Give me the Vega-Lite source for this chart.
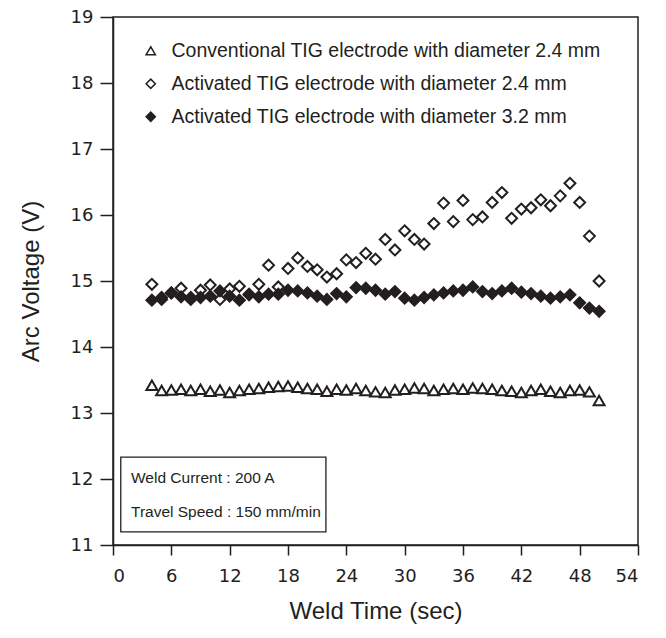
{
  "$schema": "https://vega.github.io/schema/vega-lite/v6.json",
  "width": 525,
  "height": 528,
  "autosize": {"type": "none"},
  "padding": {"left": 113, "top": 17, "right": 28, "bottom": 93},
  "background": "white",
  "config": {
    "view": {"stroke": "#231f20", "strokeWidth": 1.5},
    "axis": {"domainColor": "#231f20", "domainWidth": 1.5, "tickColor": "#231f20", "tickWidth": 1.5, "grid": false, "labelColor": "#231f20", "titleColor": "#231f20", "labelFont": "DejaVu Sans", "labelFontSize": 18, "titleFont": "Liberation Sans", "titleFontSize": 24, "titleFontWeight": "normal"},
    "legend": {"labelFont": "Liberation Sans", "labelFontSize": 19.5, "labelColor": "#231f20", "labelLimit": 0, "labelOffset": 11, "rowPadding": 12, "symbolSize": 85, "symbolStrokeWidth": 1.5}
  },
  "datasets": {
    "box": [{"x": 0.8, "x2": 21.9, "y": 12.33, "y2": 11.2}],
    "notes": [{"x": 1.85, "y": 12.02, "text": "Weld Current : 200 A"}, {"x": 1.85, "y": 11.5, "text": "Travel Speed : 150 mm/min"}],
    "pts": [
      {"series": "Conventional TIG electrode with diameter 2.4 mm", "t": 4, "v": 13.42},
      {"series": "Conventional TIG electrode with diameter 2.4 mm", "t": 5, "v": 13.34},
      {"series": "Conventional TIG electrode with diameter 2.4 mm", "t": 6, "v": 13.35},
      {"series": "Conventional TIG electrode with diameter 2.4 mm", "t": 7, "v": 13.36},
      {"series": "Conventional TIG electrode with diameter 2.4 mm", "t": 8, "v": 13.34},
      {"series": "Conventional TIG electrode with diameter 2.4 mm", "t": 9, "v": 13.36},
      {"series": "Conventional TIG electrode with diameter 2.4 mm", "t": 10, "v": 13.33},
      {"series": "Conventional TIG electrode with diameter 2.4 mm", "t": 11, "v": 13.35},
      {"series": "Conventional TIG electrode with diameter 2.4 mm", "t": 12, "v": 13.31},
      {"series": "Conventional TIG electrode with diameter 2.4 mm", "t": 13, "v": 13.34},
      {"series": "Conventional TIG electrode with diameter 2.4 mm", "t": 14, "v": 13.36},
      {"series": "Conventional TIG electrode with diameter 2.4 mm", "t": 15, "v": 13.37},
      {"series": "Conventional TIG electrode with diameter 2.4 mm", "t": 16, "v": 13.39},
      {"series": "Conventional TIG electrode with diameter 2.4 mm", "t": 17, "v": 13.4},
      {"series": "Conventional TIG electrode with diameter 2.4 mm", "t": 18, "v": 13.41},
      {"series": "Conventional TIG electrode with diameter 2.4 mm", "t": 19, "v": 13.39},
      {"series": "Conventional TIG electrode with diameter 2.4 mm", "t": 20, "v": 13.37},
      {"series": "Conventional TIG electrode with diameter 2.4 mm", "t": 21, "v": 13.36},
      {"series": "Conventional TIG electrode with diameter 2.4 mm", "t": 22, "v": 13.33},
      {"series": "Conventional TIG electrode with diameter 2.4 mm", "t": 23, "v": 13.36},
      {"series": "Conventional TIG electrode with diameter 2.4 mm", "t": 24, "v": 13.35},
      {"series": "Conventional TIG electrode with diameter 2.4 mm", "t": 25, "v": 13.37},
      {"series": "Conventional TIG electrode with diameter 2.4 mm", "t": 26, "v": 13.34},
      {"series": "Conventional TIG electrode with diameter 2.4 mm", "t": 27, "v": 13.32},
      {"series": "Conventional TIG electrode with diameter 2.4 mm", "t": 28, "v": 13.31},
      {"series": "Conventional TIG electrode with diameter 2.4 mm", "t": 29, "v": 13.35},
      {"series": "Conventional TIG electrode with diameter 2.4 mm", "t": 30, "v": 13.36},
      {"series": "Conventional TIG electrode with diameter 2.4 mm", "t": 31, "v": 13.38},
      {"series": "Conventional TIG electrode with diameter 2.4 mm", "t": 32, "v": 13.37},
      {"series": "Conventional TIG electrode with diameter 2.4 mm", "t": 33, "v": 13.34},
      {"series": "Conventional TIG electrode with diameter 2.4 mm", "t": 34, "v": 13.36},
      {"series": "Conventional TIG electrode with diameter 2.4 mm", "t": 35, "v": 13.37},
      {"series": "Conventional TIG electrode with diameter 2.4 mm", "t": 36, "v": 13.36},
      {"series": "Conventional TIG electrode with diameter 2.4 mm", "t": 37, "v": 13.38},
      {"series": "Conventional TIG electrode with diameter 2.4 mm", "t": 38, "v": 13.37},
      {"series": "Conventional TIG electrode with diameter 2.4 mm", "t": 39, "v": 13.36},
      {"series": "Conventional TIG electrode with diameter 2.4 mm", "t": 40, "v": 13.34},
      {"series": "Conventional TIG electrode with diameter 2.4 mm", "t": 41, "v": 13.33},
      {"series": "Conventional TIG electrode with diameter 2.4 mm", "t": 42, "v": 13.31},
      {"series": "Conventional TIG electrode with diameter 2.4 mm", "t": 43, "v": 13.34},
      {"series": "Conventional TIG electrode with diameter 2.4 mm", "t": 44, "v": 13.36},
      {"series": "Conventional TIG electrode with diameter 2.4 mm", "t": 45, "v": 13.33},
      {"series": "Conventional TIG electrode with diameter 2.4 mm", "t": 46, "v": 13.31},
      {"series": "Conventional TIG electrode with diameter 2.4 mm", "t": 47, "v": 13.34},
      {"series": "Conventional TIG electrode with diameter 2.4 mm", "t": 48, "v": 13.35},
      {"series": "Conventional TIG electrode with diameter 2.4 mm", "t": 49, "v": 13.32},
      {"series": "Conventional TIG electrode with diameter 2.4 mm", "t": 50, "v": 13.19},
      {"series": "Activated TIG electrode with diameter 2.4 mm", "t": 4, "v": 14.95},
      {"series": "Activated TIG electrode with diameter 2.4 mm", "t": 5, "v": 14.75},
      {"series": "Activated TIG electrode with diameter 2.4 mm", "t": 6, "v": 14.82},
      {"series": "Activated TIG electrode with diameter 2.4 mm", "t": 7, "v": 14.89},
      {"series": "Activated TIG electrode with diameter 2.4 mm", "t": 8, "v": 14.75},
      {"series": "Activated TIG electrode with diameter 2.4 mm", "t": 9, "v": 14.86},
      {"series": "Activated TIG electrode with diameter 2.4 mm", "t": 10, "v": 14.94},
      {"series": "Activated TIG electrode with diameter 2.4 mm", "t": 11, "v": 14.72},
      {"series": "Activated TIG electrode with diameter 2.4 mm", "t": 12, "v": 14.88},
      {"series": "Activated TIG electrode with diameter 2.4 mm", "t": 13, "v": 14.92},
      {"series": "Activated TIG electrode with diameter 2.4 mm", "t": 14, "v": 14.8},
      {"series": "Activated TIG electrode with diameter 2.4 mm", "t": 15, "v": 14.95},
      {"series": "Activated TIG electrode with diameter 2.4 mm", "t": 16, "v": 15.24},
      {"series": "Activated TIG electrode with diameter 2.4 mm", "t": 17, "v": 14.91},
      {"series": "Activated TIG electrode with diameter 2.4 mm", "t": 18, "v": 15.19},
      {"series": "Activated TIG electrode with diameter 2.4 mm", "t": 19, "v": 15.35},
      {"series": "Activated TIG electrode with diameter 2.4 mm", "t": 20, "v": 15.22},
      {"series": "Activated TIG electrode with diameter 2.4 mm", "t": 21, "v": 15.17},
      {"series": "Activated TIG electrode with diameter 2.4 mm", "t": 22, "v": 15.06},
      {"series": "Activated TIG electrode with diameter 2.4 mm", "t": 23, "v": 15.11},
      {"series": "Activated TIG electrode with diameter 2.4 mm", "t": 24, "v": 15.32},
      {"series": "Activated TIG electrode with diameter 2.4 mm", "t": 25, "v": 15.28},
      {"series": "Activated TIG electrode with diameter 2.4 mm", "t": 26, "v": 15.42},
      {"series": "Activated TIG electrode with diameter 2.4 mm", "t": 27, "v": 15.33},
      {"series": "Activated TIG electrode with diameter 2.4 mm", "t": 28, "v": 15.63},
      {"series": "Activated TIG electrode with diameter 2.4 mm", "t": 29, "v": 15.47},
      {"series": "Activated TIG electrode with diameter 2.4 mm", "t": 30, "v": 15.76},
      {"series": "Activated TIG electrode with diameter 2.4 mm", "t": 31, "v": 15.63},
      {"series": "Activated TIG electrode with diameter 2.4 mm", "t": 32, "v": 15.56},
      {"series": "Activated TIG electrode with diameter 2.4 mm", "t": 33, "v": 15.87},
      {"series": "Activated TIG electrode with diameter 2.4 mm", "t": 34, "v": 16.18},
      {"series": "Activated TIG electrode with diameter 2.4 mm", "t": 35, "v": 15.9},
      {"series": "Activated TIG electrode with diameter 2.4 mm", "t": 36, "v": 16.22},
      {"series": "Activated TIG electrode with diameter 2.4 mm", "t": 37, "v": 15.93},
      {"series": "Activated TIG electrode with diameter 2.4 mm", "t": 38, "v": 15.97},
      {"series": "Activated TIG electrode with diameter 2.4 mm", "t": 39, "v": 16.19},
      {"series": "Activated TIG electrode with diameter 2.4 mm", "t": 40, "v": 16.34},
      {"series": "Activated TIG electrode with diameter 2.4 mm", "t": 41, "v": 15.95},
      {"series": "Activated TIG electrode with diameter 2.4 mm", "t": 42, "v": 16.09},
      {"series": "Activated TIG electrode with diameter 2.4 mm", "t": 43, "v": 16.11},
      {"series": "Activated TIG electrode with diameter 2.4 mm", "t": 44, "v": 16.23},
      {"series": "Activated TIG electrode with diameter 2.4 mm", "t": 45, "v": 16.14},
      {"series": "Activated TIG electrode with diameter 2.4 mm", "t": 46, "v": 16.29},
      {"series": "Activated TIG electrode with diameter 2.4 mm", "t": 47, "v": 16.48},
      {"series": "Activated TIG electrode with diameter 2.4 mm", "t": 48, "v": 16.19},
      {"series": "Activated TIG electrode with diameter 2.4 mm", "t": 49, "v": 15.68},
      {"series": "Activated TIG electrode with diameter 2.4 mm", "t": 50, "v": 15.0},
      {"series": "Activated TIG electrode with diameter 3.2 mm", "t": 4, "v": 14.71},
      {"series": "Activated TIG electrode with diameter 3.2 mm", "t": 5, "v": 14.72},
      {"series": "Activated TIG electrode with diameter 3.2 mm", "t": 6, "v": 14.82},
      {"series": "Activated TIG electrode with diameter 3.2 mm", "t": 7, "v": 14.76},
      {"series": "Activated TIG electrode with diameter 3.2 mm", "t": 8, "v": 14.72},
      {"series": "Activated TIG electrode with diameter 3.2 mm", "t": 9, "v": 14.75},
      {"series": "Activated TIG electrode with diameter 3.2 mm", "t": 10, "v": 14.77},
      {"series": "Activated TIG electrode with diameter 3.2 mm", "t": 11, "v": 14.85},
      {"series": "Activated TIG electrode with diameter 3.2 mm", "t": 12, "v": 14.77},
      {"series": "Activated TIG electrode with diameter 3.2 mm", "t": 13, "v": 14.71},
      {"series": "Activated TIG electrode with diameter 3.2 mm", "t": 14, "v": 14.79},
      {"series": "Activated TIG electrode with diameter 3.2 mm", "t": 15, "v": 14.76},
      {"series": "Activated TIG electrode with diameter 3.2 mm", "t": 16, "v": 14.8},
      {"series": "Activated TIG electrode with diameter 3.2 mm", "t": 17, "v": 14.8},
      {"series": "Activated TIG electrode with diameter 3.2 mm", "t": 18, "v": 14.86},
      {"series": "Activated TIG electrode with diameter 3.2 mm", "t": 19, "v": 14.85},
      {"series": "Activated TIG electrode with diameter 3.2 mm", "t": 20, "v": 14.82},
      {"series": "Activated TIG electrode with diameter 3.2 mm", "t": 21, "v": 14.77},
      {"series": "Activated TIG electrode with diameter 3.2 mm", "t": 22, "v": 14.72},
      {"series": "Activated TIG electrode with diameter 3.2 mm", "t": 23, "v": 14.81},
      {"series": "Activated TIG electrode with diameter 3.2 mm", "t": 24, "v": 14.76},
      {"series": "Activated TIG electrode with diameter 3.2 mm", "t": 25, "v": 14.9},
      {"series": "Activated TIG electrode with diameter 3.2 mm", "t": 26, "v": 14.89},
      {"series": "Activated TIG electrode with diameter 3.2 mm", "t": 27, "v": 14.86},
      {"series": "Activated TIG electrode with diameter 3.2 mm", "t": 28, "v": 14.8},
      {"series": "Activated TIG electrode with diameter 3.2 mm", "t": 29, "v": 14.84},
      {"series": "Activated TIG electrode with diameter 3.2 mm", "t": 30, "v": 14.74},
      {"series": "Activated TIG electrode with diameter 3.2 mm", "t": 31, "v": 14.71},
      {"series": "Activated TIG electrode with diameter 3.2 mm", "t": 32, "v": 14.75},
      {"series": "Activated TIG electrode with diameter 3.2 mm", "t": 33, "v": 14.79},
      {"series": "Activated TIG electrode with diameter 3.2 mm", "t": 34, "v": 14.82},
      {"series": "Activated TIG electrode with diameter 3.2 mm", "t": 35, "v": 14.85},
      {"series": "Activated TIG electrode with diameter 3.2 mm", "t": 36, "v": 14.86},
      {"series": "Activated TIG electrode with diameter 3.2 mm", "t": 37, "v": 14.91},
      {"series": "Activated TIG electrode with diameter 3.2 mm", "t": 38, "v": 14.84},
      {"series": "Activated TIG electrode with diameter 3.2 mm", "t": 39, "v": 14.81},
      {"series": "Activated TIG electrode with diameter 3.2 mm", "t": 40, "v": 14.85},
      {"series": "Activated TIG electrode with diameter 3.2 mm", "t": 41, "v": 14.89},
      {"series": "Activated TIG electrode with diameter 3.2 mm", "t": 42, "v": 14.83},
      {"series": "Activated TIG electrode with diameter 3.2 mm", "t": 43, "v": 14.81},
      {"series": "Activated TIG electrode with diameter 3.2 mm", "t": 44, "v": 14.77},
      {"series": "Activated TIG electrode with diameter 3.2 mm", "t": 45, "v": 14.74},
      {"series": "Activated TIG electrode with diameter 3.2 mm", "t": 46, "v": 14.76},
      {"series": "Activated TIG electrode with diameter 3.2 mm", "t": 47, "v": 14.79},
      {"series": "Activated TIG electrode with diameter 3.2 mm", "t": 48, "v": 14.67},
      {"series": "Activated TIG electrode with diameter 3.2 mm", "t": 49, "v": 14.59},
      {"series": "Activated TIG electrode with diameter 3.2 mm", "t": 50, "v": 14.54}
    ]
  },
  "layer": [
    {
      "data": {"name": "box"},
      "mark": {"type": "rect", "fill": null, "stroke": "#231f20", "strokeWidth": 1.3},
      "encoding": {
        "x": {"field": "x", "type": "quantitative", "scale": {"domain": [0, 54], "nice": false, "zero": false},
          "axis": {"title": "Weld Time (sec)", "values": [0, 6, 12, 18, 24, 30, 36, 42, 48, 54], "tickSize": 10, "labelPadding": 12, "titlePadding": 14}},
        "x2": {"field": "x2"},
        "y": {"field": "y", "type": "quantitative", "scale": {"domain": [11, 19], "nice": false, "zero": false},
          "axis": {"title": "Arc Voltage (V)", "values": [11, 11.5, 12, 12.5, 13, 13.5, 14, 14.5, 15, 15.5, 16, 16.5, 17, 17.5, 18, 18.5, 19],
            "tickSize": {"condition": {"test": "datum.value % 1 === 0", "value": 13}, "value": 8},
            "labelExpr": "datum.value % 1 === 0 ? format(datum.value, 'd') : ''", "labelPadding": 7, "titlePadding": 27}},
        "y2": {"field": "y2"}
      }
    },
    {
      "data": {"name": "notes"},
      "mark": {"type": "text", "align": "left", "baseline": "middle", "font": "Liberation Sans", "fontSize": 15.5, "color": "#231f20"},
      "encoding": {
        "x": {"field": "x", "type": "quantitative"},
        "y": {"field": "y", "type": "quantitative"},
        "text": {"field": "text"}
      }
    },
    {
      "data": {"name": "pts"},
      "mark": {"type": "point", "strokeWidth": 2, "size": 120, "opacity": 1},
      "encoding": {
        "x": {"field": "t", "type": "quantitative"},
        "y": {"field": "v", "type": "quantitative"},
        "shape": {"field": "series", "type": "nominal",
          "scale": {"domain": ["Conventional TIG electrode with diameter 2.4 mm", "Activated TIG electrode with diameter 2.4 mm", "Activated TIG electrode with diameter 3.2 mm"], "range": ["triangle-up", "diamond", "diamond"]},
          "legend": {"title": null, "orient": "none", "legendX": 28, "legendY": 24}},
        "fill": {"field": "series", "type": "nominal",
          "scale": {"domain": ["Conventional TIG electrode with diameter 2.4 mm", "Activated TIG electrode with diameter 2.4 mm", "Activated TIG electrode with diameter 3.2 mm"], "range": ["white", "white", "#231f20"]},
          "legend": {"title": null, "orient": "none", "legendX": 28, "legendY": 24}},
        "stroke": {"field": "series", "type": "nominal",
          "scale": {"domain": ["Conventional TIG electrode with diameter 2.4 mm", "Activated TIG electrode with diameter 2.4 mm", "Activated TIG electrode with diameter 3.2 mm"], "range": ["#231f20", "#231f20", "#231f20"]},
          "legend": {"title": null, "orient": "none", "legendX": 28, "legendY": 24}}
      }
    }
  ]
}
